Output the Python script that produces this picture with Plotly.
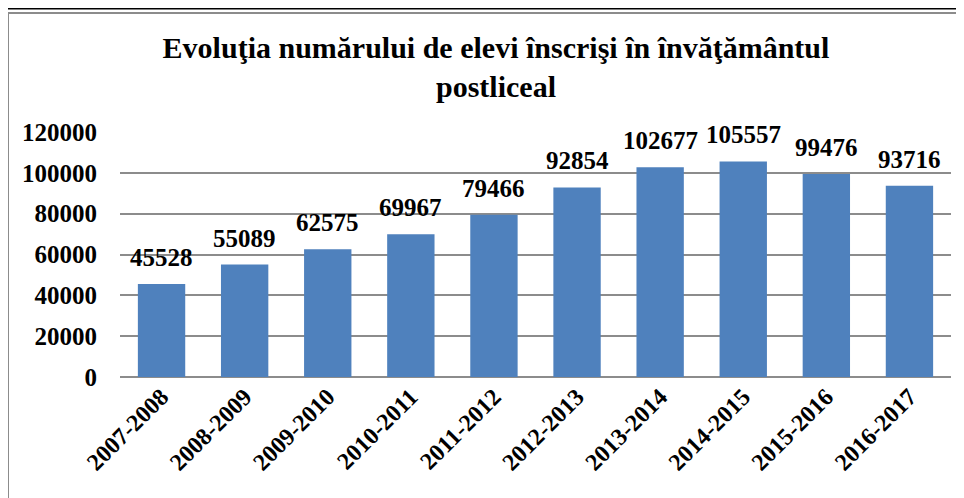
import plotly.graph_objects as go

categories = ["2007-2008", "2008-2009", "2009-2010", "2010-2011", "2011-2012",
              "2012-2013", "2013-2014", "2014-2015", "2015-2016", "2016-2017"]
values = [45528, 55089, 62575, 69967, 79466, 92854, 102677, 105557, 99476, 93716]
y_ticks = [0, 20000, 40000, 60000, 80000, 100000, 120000]

# page has an 8px body margin; work in figure coordinates
W, H = 956, 490
L, R, T, B = 112, 13, 124, 121
pw, ph = W - L - R, H - T - B

def px(x):
    return (x - L) / pw

def py(y):
    return (H - B - y) / ph

serif = "Liberation Serif, Times New Roman, serif"

fig = go.Figure(go.Bar(
    x=categories, y=values,
    marker=dict(color="#4F81BD", line=dict(width=0)),
    width=0.57, hoverinfo="x+y",
))

for c, v in zip(categories, values):
    fig.add_annotation(
        x=c, y=v, text=f"<b>{v}</b>", showarrow=False,
        xanchor="center", yanchor="bottom", yshift=11,
        font=dict(family=serif, size=25, color="black"),
    )

fig.update_layout(
    width=W, height=H,
    margin=dict(l=L, r=R, t=T, b=B, autoexpand=False),
    paper_bgcolor="white", plot_bgcolor="white",
    showlegend=False,
    title=dict(
        text="<b>Evoluţia numărului de elevi înscrişi în învăţământul<br>postliceal</b>",
        x=px(488), xanchor="center", xref="paper", y=1 - 50 / H, yanchor="middle",
        font=dict(family=serif, size=30, color="black"),
    ),
    shapes=[
        dict(type="line", xref="paper", yref="paper", x0=px(-5), x1=px(975),
             y0=py(0.8), y1=py(0.8), line=dict(color="black", width=1.5)),
        dict(type="rect", xref="paper", yref="paper", x0=px(0), x1=px(980),
             y0=py(5), y1=py(520), line=dict(color="#8c8c8c", width=2),
             fillcolor="rgba(0,0,0,0)", layer="below"),
    ],
)

fig.update_xaxes(
    tickangle=-45, tickfont=dict(family=serif, size=24, color="black"),
    showgrid=False, showline=False, ticks="", automargin=False,
    tickvals=categories, ticktext=[f"<b>{c}</b>" for c in categories],
)
fig.update_yaxes(
    range=[0, 120000], tickvals=y_ticks, ticktext=[f"<b>{v}</b>" for v in y_ticks],
    tickfont=dict(family=serif, size=25, color="black"),
    showgrid=True, gridcolor="#8c8c8c", gridwidth=1.5,
    zeroline=True, zerolinecolor="#8c8c8c", zerolinewidth=2,
    ticks="", ticklabelstandoff=22, showline=False, automargin=False,
)

fig.write_html("out.html")
